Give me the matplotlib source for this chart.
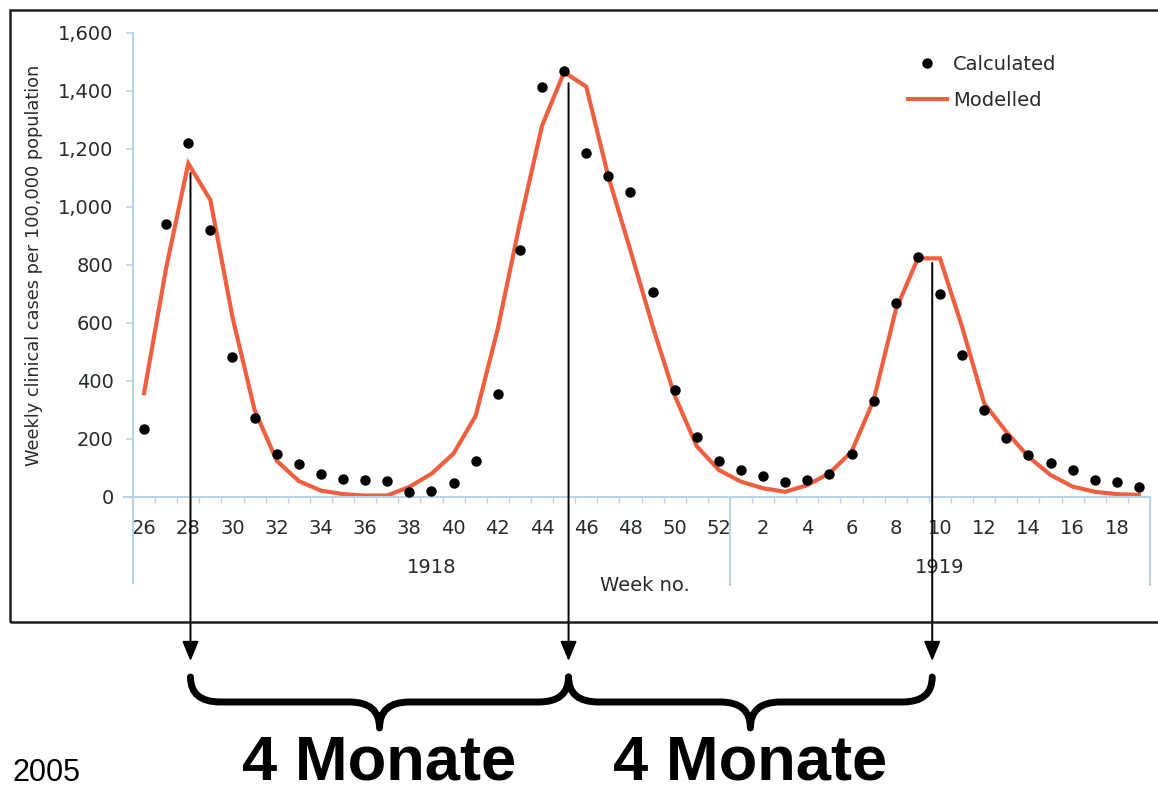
import numpy as np
import matplotlib
matplotlib.use('Agg')
import matplotlib.pyplot as plt
from matplotlib import transforms
from matplotlib.path import Path
from matplotlib.patches import PathPatch, Rectangle

# week numbers on the category axis (1918: 26..52, 1919: 1..19)
weeks_1918 = list(range(26, 53))
weeks_1919 = list(range(1, 20))
weeks = weeks_1918 + weeks_1919

# weekly clinical cases per 100,000 population
calculated = [233, 941, 1219, 920, 484, 271, 148, 113, 78, 63, 59, 54, 16, 22,
              47, 124, 356, 852, 1414, 1470, 1187, 1108, 1052, 707, 369, 206, 125,
              93, 74, 53, 59, 79, 148, 332, 670, 826, 699, 490, 300, 205, 145,
              116, 93, 59, 51, 36]
modelled = [358, 790, 1150, 1024, 620, 300, 125, 55, 22, 10, 5, 5, 35, 80,
            150, 280, 580, 945, 1280, 1465, 1415, 1105, 850, 590, 350, 175, 93,
            53, 30, 18, 41, 82, 156, 334, 645, 823, 823, 587, 323, 225, 139,
            76, 36, 18, 10, 7]

y_ticks = [0, 200, 400, 600, 800, 1000, 1200, 1400, 1600]
groups = ['1918', '1919']

# peaks marked with arrows (category position, value at arrow start)
arrow_x = [2.1, 19.2, 35.65]
arrow_top = [1117, 1427, 807]
brace_label = '4 Monate'

W, H = 1158, 786
plt.rcParams['font.family'] = ['DejaVu Sans']
text_col = '#272b2e'
axis_col = '#bcd3e6'
red = '#ef5f3f'

fig = plt.figure(figsize=(W / 100, H / 100), dpi=100)
fig.patch.set_facecolor('white')

ax = fig.add_axes([133 / W, 1 - 497 / H, (1150 - 133) / W, (497 - 33) / H])
ax.set_facecolor('none')

x = np.arange(len(weeks))
ax.plot(x, modelled, color=red, lw=3, label='Modelled', zorder=2, solid_joinstyle='miter')
ax.plot(x, calculated, 'o', color='black', ms=6.5, label='Calculated', zorder=3)

ax.set_xlim(-0.5, len(weeks) - 0.5)
ax.set_ylim(0, 1600)

for s in ax.spines.values():
    s.set_visible(False)

# axis lines, Excel style
ax.plot([-0.009, 1], [0, 0], transform=ax.transAxes, color=axis_col, lw=1.5, clip_on=False)
ax.plot([0, 0], [-0.185, 1], transform=ax.transAxes, color=axis_col, lw=1.5, clip_on=False)
blend = transforms.blended_transform_factory(ax.transData, ax.transAxes)
for sep in [len(weeks_1918) - 0.5, len(weeks) - 0.5]:
    ax.plot([sep, sep], [0, -0.19], transform=blend, color=axis_col, lw=1.5, clip_on=False)

ax.set_yticks(y_ticks)
ax.set_yticklabels(['{:,}'.format(v) for v in y_ticks])
ax.tick_params(axis='y', length=5, color=axis_col, width=1.2, pad=9,
               labelsize=14, labelcolor=text_col)

major = [i for i, w in enumerate(weeks) if w % 2 == 0]
ax.set_xticks(major)
ax.set_xticklabels([str(weeks[i]) for i in major])
ax.set_xticks(np.arange(-0.5, len(weeks)), minor=True)
ax.tick_params(axis='x', which='major', length=0, pad=16, labelsize=14, labelcolor=text_col)
ax.tick_params(axis='x', which='minor', length=4, color=axis_col, width=1)

ax.text((len(weeks_1918) - 1) / 2, -0.153, groups[0], transform=blend, ha='center',
        va='center', fontsize=14, color=text_col)
ax.text(len(weeks_1918) + (len(weeks_1919) - 1) / 2, -0.153, groups[1], transform=blend,
        ha='center', va='center', fontsize=14, color=text_col)
ax.text(22.67, -0.19, 'Week no.', transform=blend, ha='center', va='center',
        fontsize=14, color=text_col)

ax.set_ylabel('Weekly clinical cases per 100,000 population', fontsize=12.8, color=text_col)
ax.yaxis.set_label_coords(-90 / 1017, 0.5)

h, l = ax.get_legend_handles_labels()
ax.legend(h[::-1], l[::-1], loc='upper left', bbox_to_anchor=(908 / W, 1 - 55 / H),
          bbox_transform=fig.transFigure, frameon=False, fontsize=14, handlelength=2,
          handletextpad=0.3, labelspacing=0.85, borderpad=0, borderaxespad=0,
          numpoints=1, labelcolor=text_col)

# frame around the chart
fig.add_artist(Rectangle((10 / W, 1 - 622 / H), (1180 - 10) / W, (622 - 10) / H,
                         transform=fig.transFigure, fill=False, ec='#1e1e1e', lw=1.8))

# arrows from peaks down below the frame
arrow_trans = transforms.blended_transform_factory(ax.transData, fig.transFigure)
for xa, ya in zip(arrow_x, arrow_top):
    ax.annotate('', xy=(xa, 1 - 661 / H), xycoords=arrow_trans, xytext=(xa, ya),
                textcoords='data', annotation_clip=False,
                arrowprops=dict(arrowstyle='-|>,head_length=1.2,head_width=0.5',
                                color='black', lw=1.4, shrinkA=0, shrinkB=0,
                                mutation_scale=10))

# braces between the arrows
def brace_path(x0, x1, ytop, ymid, ybot, r):
    xc = (x0 + x1) / 2
    verts = [(x0, ytop), (x0, ymid), (x0 + r, ymid), (xc - r, ymid), (xc, ymid), (xc, ybot),
             (xc, ymid), (xc + r, ymid), (x1 - r, ymid), (x1, ymid), (x1, ytop)]
    codes = [Path.MOVETO, Path.CURVE3, Path.CURVE3, Path.LINETO, Path.CURVE3, Path.CURVE3,
             Path.CURVE3, Path.CURVE3, Path.LINETO, Path.CURVE3, Path.CURVE3]
    return Path([(vx, H - vy) for vx, vy in verts], codes)

fig.canvas.draw()
px = [ax.transData.transform((xa, 0))[0] for xa in arrow_x]
pix = transforms.Affine2D().scale(1 / W, 1 / H) + fig.transFigure
for a, b in zip(px[:-1], px[1:]):
    fig.add_artist(PathPatch(brace_path(a, b, 677, 702, 728, 30), transform=pix,
                             fill=False, lw=5, ec='black', capstyle='round', joinstyle='round'))
    fig.text((a + b) / 2 / W, 1 - 780 / H, brace_label, ha='center', va='baseline',
             fontsize=45.5, fontweight='bold', family='Liberation Sans', color='black')

fig.text(12 / W, 1 - 781 / H, '2005', ha='left', va='baseline', fontsize=22,
         family='Liberation Sans', color='black')

fig.savefig('out.png', dpi=100)
